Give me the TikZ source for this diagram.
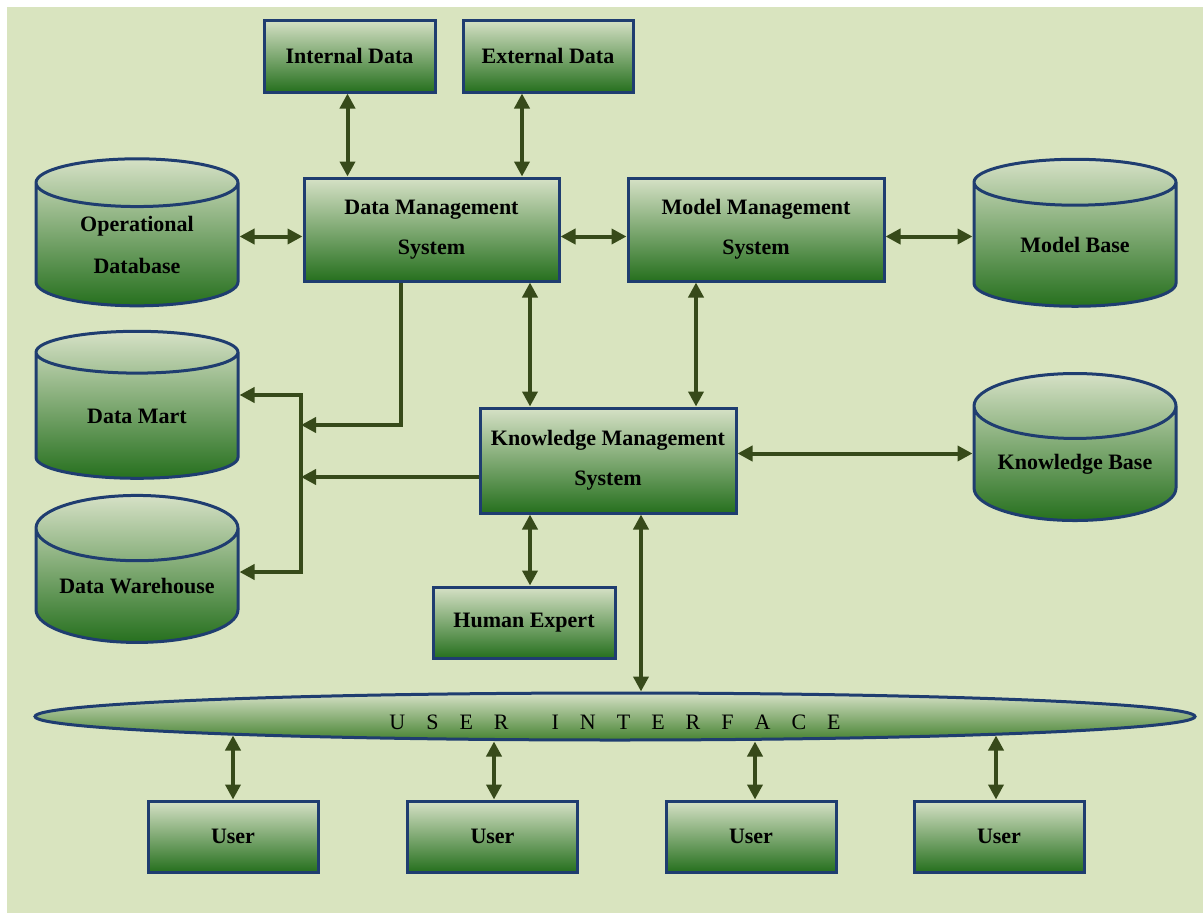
\documentclass[tikz,border=0pt]{standalone}
\usepackage{fontspec}
\setmainfont{Liberation Serif}
\usetikzlibrary{shapes.geometric,arrows.meta}
\definecolor{dssBack}{RGB}{217,228,191}
\definecolor{dssBorder}{RGB}{31,61,112}
\definecolor{dssArrow}{RGB}{55,74,26}
\definecolor{dssLight}{RGB}{214,225,198}
\definecolor{dssMid}{RGB}{146,175,96}
\definecolor{dssDark}{RGB}{38,112,30}

\tikzset{
  box/.style={draw=dssBorder, line width=3pt, top color=dssLight, middle color=dssMid, bottom color=dssDark,
    inner sep=0pt, align=center, font=\bfseries\fontsize{22}{40}\selectfont},
  store/.style={cylinder, shape border rotate=90, aspect=0.42, draw=dssBorder, line width=3pt,
    top color=dssLight, middle color=dssMid, bottom color=dssDark, inner sep=0pt,
    minimum width=202pt, minimum height=147pt, align=center, font=\bfseries\fontsize{22}{42}\selectfont},
  link/.style={draw=dssArrow, line width=4pt},
  both/.style={link, {Triangle[width=15pt,length=15pt]}-{Triangle[width=15pt,length=15pt]}},
  into/.style={link, -{Triangle[width=15pt,length=15pt]}}
}
\newcommand{\uigap}{\hspace{21pt}}

\begin{document}
\begin{tikzpicture}[x=1pt, y=-1pt]
  \useasboundingbox (0,0) rectangle (1203,913);
  \fill[white] (0,0) rectangle (1203,913);
  \fill[dssBack] (7,7) rectangle (1203,913);

  % Data sources
  \node[box, minimum width=171pt, minimum height=72pt] (intdata) at (349.5,56) {Internal Data};
  \node[box, minimum width=170pt, minimum height=72pt] (extdata) at (548,56) {External Data};

  % Management systems
  \node[box, minimum width=255pt, minimum height=103pt] (dms) at (431.5,229.5) {Data Management\\System};
  \node[box, minimum width=256pt, minimum height=103pt] (mms) at (756,229.5) {Model Management\\System};
  \node[box, minimum width=256pt, minimum height=105pt] (kms) at (608,460.5) {Knowledge Management\\System};
  \node[box, minimum width=182pt, minimum height=71pt] (expert) at (524,622.5) {Human Expert};

  % Stores
  \node[store] (opdb) at (137,245) {Operational\\Database};
  \node[store] (dmart) at (137,416) {Data Mart};
  \node[store] (dwh) at (137,586) {Data Warehouse};
  \node[store] (mbase) at (1075,245) {Model Base};
  \node[store] (kbase) at (1075,464) {Knowledge Base};

  % User interface
  \node[ellipse, draw=dssBorder, line width=3pt, top color=dssLight, middle color=dssMid, bottom color=dssDark!70!dssMid,
    inner sep=0pt, minimum width=1160pt, minimum height=47pt, font=\fontsize{22}{22}\selectfont] (ui) at (615,716.5)
    {\raisebox{-13pt}[0pt][0pt]{U\uigap S\uigap E\uigap R\uigap\hspace{22pt}I\uigap N\uigap T\uigap E\uigap R\uigap F\uigap A\uigap C\uigap E}};

  % Users
  \foreach \ux [count=\i] in {233,492.5,751,999}
    \node[box, minimum width=170pt, minimum height=71pt] (user\i) at (\ux,836.5) {User};

  % Bus to data mart and warehouse
  \coordinate (bustop) at (301,395);
  \coordinate (busdms) at (301,425);
  \coordinate (buskms) at (301,477);
  \coordinate (busbot) at (301,572);

  % Arrows
  \draw[both] ([xshift=-2pt]intdata.south) -- ([xshift=-2pt]intdata.south |- dms.north);
  \draw[both] ([xshift=-26pt]extdata.south) -- ([xshift=-26pt]extdata.south |- dms.north);
  \draw[both] ([yshift=-7pt]dms.west) -- ([yshift=-7pt]dms.west -| opdb.east);
  \draw[both] ([yshift=-7pt]dms.east) -- ([yshift=-7pt]mms.west);
  \draw[both] ([yshift=-7pt]mms.east) -- ([yshift=-7pt]mms.east -| mbase.west);
  \draw[both] ([xshift=-78pt]kms.north) -- ([xshift=-78pt]kms.north |- dms.south);
  \draw[both] ([xshift=88pt]kms.north) -- ([xshift=88pt]kms.north |- mms.south);
  \draw[both] ([yshift=7pt]kms.east) -- ([yshift=7pt]kms.east -| kbase.west);
  \draw[both] ([xshift=6pt]expert.north) -- ([xshift=6pt]expert.north |- kms.south);
  \draw[both] ([xshift=33pt]kms.south) -- ([xshift=33pt]kms.south |- ui.north);
  \draw[both] (user1.north) -- ([yshift=6pt]user1.north |- ui.south);
  \draw[both] ([xshift=1.5pt]user2.north) -- ([xshift=1.5pt]user2.north |- ui.south);
  \draw[both] ([xshift=4pt]user3.north) -- ([xshift=4pt]user3.north |- ui.south);
  \draw[both] ([xshift=-3pt]user4.north) -- ([xshift=-3pt,yshift=6pt]user4.north |- ui.south);

  \draw[into] ([xshift=-31pt]dms.south) |- (busdms);
  \draw[into] (kms.west |- buskms) -- (buskms);
  \draw[link] (bustop) -- (busbot);
  \draw[into] ([xshift=2pt]bustop) -- (bustop -| dmart.east);
  \draw[into] ([xshift=2pt]busbot) -- (busbot -| dwh.east);
\end{tikzpicture}
\end{document}
